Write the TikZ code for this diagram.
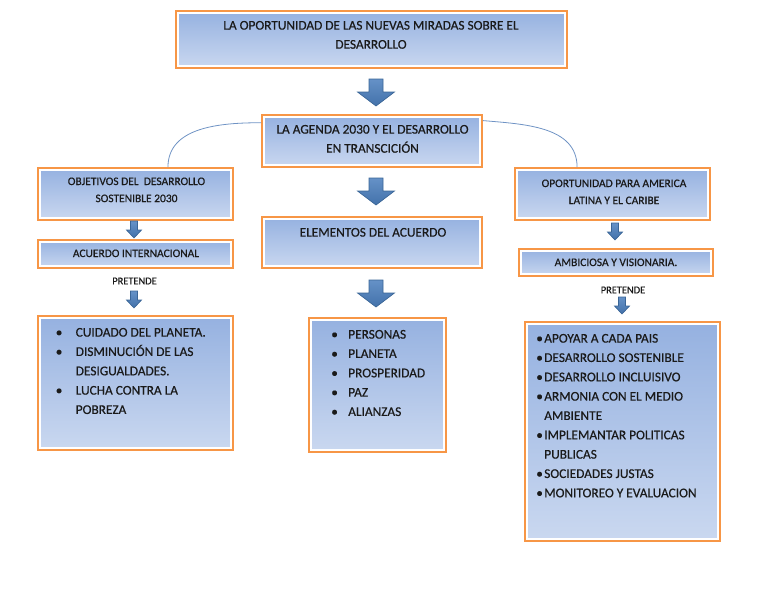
\documentclass[tikz,border=0pt]{standalone}
\usepackage{fontspec}
\setmainfont{Carlito}[FakeBold=0.5]
\usetikzlibrary{fit,calc}
\definecolor{bor}{HTML}{F79646}
\definecolor{gtop}{HTML}{95B1E0}
\definecolor{gbot}{HTML}{CAD8F0}
\definecolor{arrf}{HTML}{4A7EBD}
\definecolor{arrd}{HTML}{3A6596}
\definecolor{arcc}{HTML}{6F93C4}
\definecolor{txtc}{HTML}{1A1A1A}
\newcommand\bul[1]{\makebox[#1][l]{\textbullet}}
\tikzset{
  box/.style={draw=bor, line width=1.3pt, fill=white, inner sep=0pt,
    path picture={\shade[top color=gtop, bottom color=gbot]
      ([shift={(2.4pt,-2.4pt)}]path picture bounding box.north west) rectangle
      ([shift={(-2.4pt,2.4pt)}]path picture bounding box.south east);}},
  txt/.style={font=\fontsize{10}{14.3}\selectfont, align=center, inner sep=0pt, text=txtc},
  stxt/.style={font=\fontsize{8.6}{12.8}\selectfont, align=center, inner sep=0pt, text=txtc},
  ptxt/.style={font=\fontsize{7.8}{9}\selectfont, inner sep=0pt, text=txtc},
  ltxt/.style={font=\fontsize{10}{14.5}\selectfont, align=left, inner sep=0pt, text=txtc},
  arrowfill/.style={top color=arrf!85!white, bottom color=arrf!90!black, draw=arrd, line width=0.5pt, line join=miter},
  arcline/.style={draw=arcc, line width=0.6pt},
  bigarr/.pic={\path[arrowfill] (-7,-14) -- (7,-14) -- (7,-1) -- (18.5,-1) -- (0,13) -- (-18.5,-1) -- (-7,-1) -- cycle;},
  smallarr/.pic={\path[arrowfill] (-3.5,-8.5) -- (3.5,-8.5) -- (3.5,0.5) -- (7.5,0.5) -- (0,8.5) -- (-7.5,0.5) -- (-3.5,0.5) -- cycle;}
}
\begin{document}
\begin{tikzpicture}[x=0.75pt,y=-0.75pt]
\useasboundingbox (0,0) rectangle (768,594);
% boxes
\node[box, fit={(176,11) (567,68)}] (top) {};
\node[box, fit={(262,115) (482,167)}] (agenda) {};
\node[box, fit={(38,168) (233,220)}] (obj) {};
\node[box, fit={(38,240) (233,268)}] (acuerdo) {};
\node[box, fit={(38,316) (233,450)}] (llist) {};
\node[box, fit={(262,217) (482,268)}] (elem) {};
\node[box, fit={(309,318) (446,452)}] (mlist) {};
\node[box, fit={(515,168) (710,220)}] (oport) {};
\node[box, fit={(519,249) (713,276)}] (ambic) {};
\node[box, fit={(525,322) (720,541)}] (rlist) {};
% texts
\node[txt, anchor=north] (ttop) at (371,20.7) {LA OPORTUNIDAD DE LAS NUEVAS MIRADAS SOBRE EL\\DESARROLLO};
\node[txt, anchor=north] (tagenda) at (372.5,124.7) {LA AGENDA 2030 Y EL DESARROLLO\\EN TRANSCICIÓN};
\node[stxt, anchor=north] (tobj) at (136.5,177.3) {OBJETIVOS DEL\ \ DESARROLLO\\SOSTENIBLE 2030};
\node[stxt, anchor=north] (tacuerdo) at (136,249.3) {ACUERDO INTERNACIONAL};
\node[ptxt] (pret1) at (134.5,281) {PRETENDE};
\node[txt, anchor=north] (telem) at (373,227.7) {ELEMENTOS DEL ACUERDO};
\node[stxt, anchor=north] (toport) at (614,179.3) {OPORTUNIDAD PARA AMERICA\\LATINA Y EL CARIBE};
\node[stxt, anchor=north] (tambic) at (616,258.3) {AMBICIOSA Y VISIONARIA.};
\node[ptxt] (pret2) at (623,290) {PRETENDE};
\node[ltxt, anchor=north west] (tl) at (55.5,327.7) {\bul{15pt}CUIDADO DEL PLANETA.\\
\bul{15pt}DISMINUCIÓN DE LAS\\
\hspace*{15pt}DESIGUALDADES.\\
\bul{15pt}LUCHA CONTRA LA\\
\hspace*{15pt}POBREZA};
\node[ltxt, anchor=north west] (tm) at (331,329.7) {\bul{12.75pt}PERSONAS\\
\bul{12.75pt}PLANETA\\
\bul{12.75pt}PROSPERIDAD\\
\bul{12.75pt}PAZ\\
\bul{12.75pt}ALIANZAS};
\node[ltxt, anchor=north west] (tr) at (536,333.7) {\bul{6pt}APOYAR A CADA PAIS\\
\bul{6pt}DESARROLLO SOSTENIBLE\\
\bul{6pt}DESARROLLO INCLUISIVO\\
\bul{6pt}ARMONIA CON EL MEDIO\\
\hspace*{6pt}AMBIENTE\\
\bul{6pt}IMPLEMANTAR POLITICAS\\
\hspace*{6pt}PUBLICAS\\
\bul{6pt}SOCIEDADES JUSTAS\\
\bul{6pt}MONITOREO Y EVALUACION};
% block arrows
\pic at (376,93) {bigarr};
\pic at (376,192) {bigarr};
\pic at (376,294) {bigarr};
\pic at (134,229.5) {smallarr};
\pic at (134,299.5) {smallarr};
\pic at (615,231.5) {smallarr};
\pic at (622,305.5) {smallarr};
% arcs
\draw[arcline] ($(agenda.north west)!0.16!(agenda.south west)$) to[out=180,in=90] ($(obj.north west)!0.665!(obj.north east)$);
\draw[arcline] ($(agenda.north east)!0.12!(agenda.south east)$) to[out=-5,in=90] ($(oport.north west)!0.32!(oport.north east)$);
\end{tikzpicture}
\end{document}
